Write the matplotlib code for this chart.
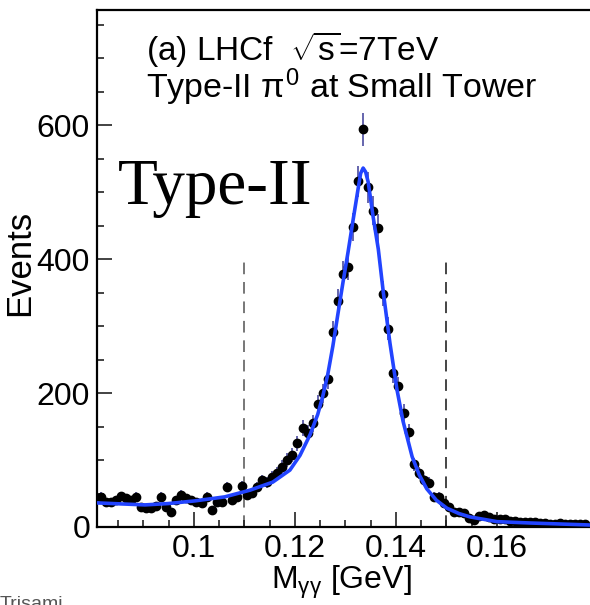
import numpy as np
import matplotlib
matplotlib.use('Agg')
import matplotlib.pyplot as plt
from matplotlib.ticker import MultipleLocator, FixedLocator, FixedFormatter

plt.rcParams['font.family'] = ['Liberation Sans', 'DejaVu Sans']
plt.rcParams['mathtext.fontset'] = 'custom'
plt.rcParams['mathtext.rm'] = 'Liberation Sans'
plt.rcParams['mathtext.it'] = 'Liberation Sans'
plt.rcParams['mathtext.sf'] = 'Liberation Sans'

# histogram bins (0.001 GeV wide), centres
bin_lo = 0.0805
events = [45, 45, 37, 37, 40, 46, 43, 40, 45, 30,
          28, 28, 32, 45, 30, 22, 40, 48, 43, 40,
          37, 36, 45, 25, 38, 37, 60, 40, 45, 61,
          48, 51, 60, 70, 67, 75, 81, 90, 100, 108,
          125, 148, 140, 155, 184, 200, 221, 291, 337, 378,
          388, 448, 516, 594, 507, 472, 446, 348, 296, 230,
          210, 170, 142, 94, 81, 70, 66, 45, 45, 36,
          30, 22, 22, 21, 13, 10, 16, 18, 15, 12,
          12, 12, 9, 9, 8, 7, 7, 7, 6, 6,
          5, 5, 6, 4, 5, 5, 4, 4]
mass = [round(bin_lo + 0.001 * i, 4) for i in range(len(events))]

# fitted function
fit_x = [0.0808, 0.0903, 0.0949, 0.1002, 0.1061, 0.1111, 0.1156, 0.1190,
         0.1210, 0.1230, 0.1245, 0.1255, 0.1265, 0.1275, 0.1285, 0.1295,
         0.1305, 0.1315, 0.1325, 0.1330, 0.1335, 0.1340, 0.1345, 0.1355,
         0.1365, 0.1375, 0.1388, 0.1402, 0.1414, 0.1432, 0.1446, 0.1461,
         0.1480, 0.1501, 0.1525, 0.1547, 0.1600, 0.1665, 0.1784]
fit_y = [36, 33, 35, 39, 45, 55, 67, 85,
         107, 138, 168, 195, 228, 270, 318, 365,
         410, 458, 505, 528, 536, 530, 515, 462,
         415, 350, 275, 205, 158, 105, 78, 57,
         40, 28, 20, 15, 8, 6, 3]

cut_lines = [0.11, 0.15]
cut_top = 400
xticks = [0.1, 0.12, 0.14, 0.16]
xtick_labels = ['0.1', '0.12', '0.14', '0.16']
yticks = [0, 200, 400, 600]

fig = plt.figure(figsize=(5.9, 6.05), dpi=100)
ax = fig.add_axes([97 / 590, 1 - 527 / 605, 503 / 590, 517 / 605])

ax.vlines(cut_lines, 0, cut_top, colors=['#777777', '#444444'], linestyles=(0, (6, 4)), lw=1.4, zorder=1)
ax.errorbar(mass, events, yerr=np.sqrt(events), fmt='o', color='black', ms=6,
            ecolor='#4b4ba0', elinewidth=1.2, capsize=0, zorder=3)
ax.plot(fit_x, fit_y, color='#2244ff', lw=2.6, zorder=4)

ax.set_xlim(0.0808, 0.1804)
ax.set_ylim(0, 772)

ax.xaxis.set_major_locator(FixedLocator(xticks))
ax.xaxis.set_major_formatter(FixedFormatter(xtick_labels))
ax.xaxis.set_minor_locator(MultipleLocator(0.005))
ax.yaxis.set_major_locator(FixedLocator(yticks))
ax.yaxis.set_minor_locator(MultipleLocator(50))
ax.tick_params(which='both', direction='in', top=False, right=False, width=1.2, color='#222222')
ax.tick_params(which='major', length=11, labelsize=23, pad=5)
ax.tick_params(which='minor', length=5)
for s in ax.spines.values():
    s.set_linewidth(1.6)

ax.set_xlabel(r'M$_{\gamma\gamma}$ [GeV]', fontsize=23, x=0.485, labelpad=0)
ax.set_ylabel('Events', fontsize=25)
ax.yaxis.set_label_coords(-0.122, 0.51)

ax.text(0.0905, 697, r'(a) LHCf  $\sqrt{\mathrm{s}}$=7TeV', fontsize=24, va='baseline')
ax.text(0.0905, 640, r'Type-II $\pi^{0}$ at Small Tower', fontsize=24.5, va='baseline')
ax.text(0.0850, 482, 'Type-II', fontsize=47, family='Liberation Serif', va='baseline')

fig.text(0.0, -0.014, 'Trisami', fontsize=14, color='#555555', va='bottom')

fig.savefig('out.png', dpi=100)
